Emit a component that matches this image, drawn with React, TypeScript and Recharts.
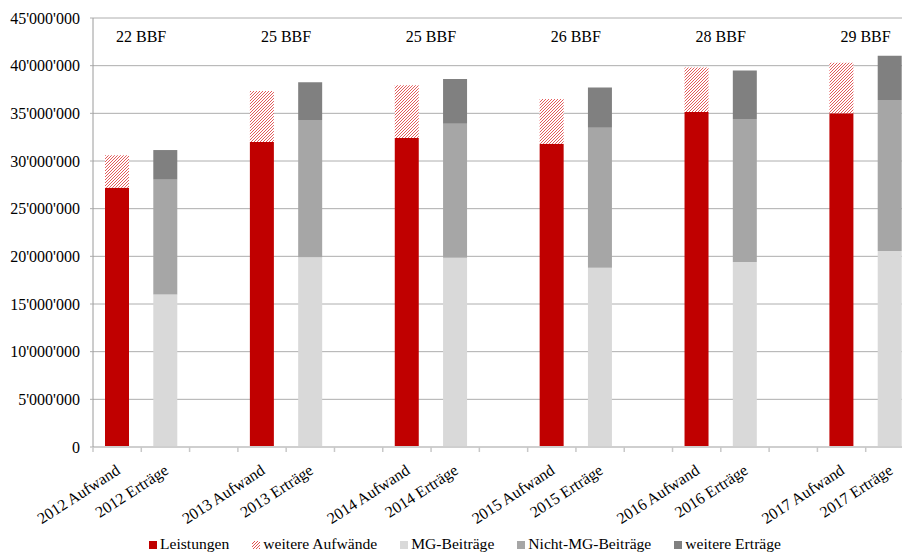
import React from "react";
import { BarChart, Bar, XAxis, YAxis, CartesianGrid, LabelList } from "recharts";

const years = ["2012", "2013", "2014", "2015", "2016", "2017"];
const bbf = [22, 25, 25, 26, 28, 29];
// values in millions CHF
const leistungen = [27.2, 32.0, 32.4, 31.8, 35.15, 35.0];
const weitereAufwaende = [3.4, 5.35, 5.55, 4.7, 4.65, 5.3];
const mgBeitraege = [16.0, 19.9, 19.85, 18.8, 19.4, 20.55];
const nichtMgBeitraege = [12.1, 14.4, 14.05, 14.7, 15.0, 15.85];
const weitereErtraege = [3.05, 3.95, 4.7, 4.2, 5.1, 4.65];
const yTicks = [0, 5, 10, 15, 20, 25, 30, 35, 40, 45].map((v) => v * 1e6);

const FONT = "Liberation Serif, DejaVu Serif, serif";
const CHART_W = 930;
const CHART_H = 552;
const Y_AXIS_W = 93;
const MARGIN = { top: 18, right: 16, left: 0, bottom: 25 };
const X_AXIS_H = 80;

type Row = {
  id: string;
  label: string;
  leistungen: number;
  weitere: number;
  mg: number;
  nmg: number;
  we: number;
  bbf?: string;
};

const rows: Row[] = [];
years.forEach((y, i) => {
  if (i > 0) rows.push({ id: `gap${i}`, label: "", leistungen: 0, weitere: 0, mg: 0, nmg: 0, we: 0 });
  rows.push({
    id: `${y}a`,
    label: `${y} Aufwand`,
    leistungen: leistungen[i] * 1e6,
    weitere: weitereAufwaende[i] * 1e6,
    mg: 0,
    nmg: 0,
    we: 0,
    bbf: `${bbf[i]} BBF`,
  });
  rows.push({
    id: `${y}e`,
    label: `${y} Erträge`,
    leistungen: 0,
    weitere: 0,
    mg: mgBeitraege[i] * 1e6,
    nmg: nichtMgBeitraege[i] * 1e6,
    we: weitereErtraege[i] * 1e6,
  });
});

const BAND = (CHART_W - MARGIN.left - MARGIN.right - Y_AXIS_W) / rows.length;

const fmt = (v: number) =>
  String(Math.round(v)).replace(/\B(?=(\d{3})+(?!\d))/g, "'");

const XTick = (props: any) => {
  const { x, y, index } = props;
  const row = rows[index];
  const ax = x + 4;
  const ay = y + 26;
  return (
    <g>
      <line x1={x - BAND / 2} x2={x - BAND / 2} y1={y} y2={y + 5} stroke="#c8c8c8" strokeWidth={1.5} />
      {row && row.label && (
        <text
          x={ax}
          y={ay}
          textAnchor="end"
          transform={`rotate(-33 ${ax} ${ay})`}
          style={{ fontFamily: FONT, fontSize: 16 }}
          fill="#000"
        >
          {row.label}
        </text>
      )}
    </g>
  );
};

const BbfLabel = (props: any) => {
  const { x, width, value } = props;
  if (!value) return null;
  return (
    <text
      x={Number(x) + Number(width) / 2 + BAND / 2}
      y={42}
      textAnchor="middle"
      style={{ fontFamily: FONT, fontSize: 16 }}
      fill="#000"
    >
      {value}
    </text>
  );
};

const legendItems = [
  { name: "Leistungen", color: "#c00000" },
  { name: "weitere Aufwände", color: "hatch" },
  { name: "MG-Beiträge", color: "#d9d9d9" },
  { name: "Nicht-MG-Beiträge", color: "#a6a6a6" },
  { name: "weitere Erträge", color: "#808080" },
];

export default function App() {
  return (
    <div
      style={{
        position: "absolute",
        left: 0,
        top: 0,
        width: 902,
        height: 552,
        overflow: "hidden",
        background: "#fff",
        fontFamily: FONT,
      }}
    >
      <BarChart
        width={CHART_W}
        height={CHART_H}
        data={rows}
        margin={MARGIN}
        barSize={24}
        style={{ fontFamily: FONT }}
      >
        <defs>
          <pattern id="hatch" patternUnits="userSpaceOnUse" width="3" height="3">
            <rect width="3" height="3" fill="#fff" />
            <path d="M-1,1 l2,-2 M0,3 l3,-3 M2,4 l2,-2" stroke="#e04848" strokeWidth={0.9} />
          </pattern>
        </defs>
        <CartesianGrid vertical={false} stroke="#aeaeae" />
        <XAxis
          dataKey="id"
          height={X_AXIS_H}
          interval={0}
          tick={<XTick />}
          tickLine={false}
          tickSize={0}
          tickMargin={0}
          axisLine={{ stroke: "#cfcfcf", strokeWidth: 2 }}
        />
        <YAxis
          width={Y_AXIS_W}
          domain={[0, 45e6]}
          ticks={yTicks}
          interval={0}
          tickFormatter={fmt}
          tickSize={3}
          tickMargin={10}
          tickLine={{ stroke: "#aeaeae" }}
          axisLine={{ stroke: "#9a9a9a" }}
          tick={{ style: { fontFamily: FONT, fontSize: 16 }, fill: "#000" }}
        />
        <Bar dataKey="leistungen" stackId="a" fill="#c00000" isAnimationActive={false} />
        <Bar dataKey="weitere" stackId="a" fill="url(#hatch)" isAnimationActive={false}>
          <LabelList dataKey="bbf" content={<BbfLabel />} />
        </Bar>
        <Bar dataKey="mg" stackId="a" fill="#d9d9d9" isAnimationActive={false} />
        <Bar dataKey="nmg" stackId="a" fill="#a6a6a6" isAnimationActive={false} />
        <Bar dataKey="we" stackId="a" fill="#808080" isAnimationActive={false} />
      </BarChart>
      <div
        style={{
          position: "absolute",
          left: 149,
          top: 536,
          display: "flex",
          gap: 23,
          fontSize: 15.6,
          lineHeight: "16px",
          whiteSpace: "nowrap",
          color: "#000",
        }}
      >
        {legendItems.map((it) => (
          <span key={it.name}>
            {it.color === "hatch" ? (
              <svg width={8} height={8} style={{ marginRight: 3, verticalAlign: "baseline" }}>
                <defs>
                  <pattern id="hatchIcon" patternUnits="userSpaceOnUse" width="3" height="3">
                    <path d="M-1,1 l2,-2 M0,3 l3,-3 M2,4 l2,-2" stroke="#e04040" strokeWidth={0.9} />
                  </pattern>
                </defs>
                <rect width={8} height={8} fill="url(#hatchIcon)" />
              </svg>
            ) : (
              <span
                style={{
                  display: "inline-block",
                  width: 8,
                  height: 8,
                  background: it.color,
                  marginRight: 3,
                }}
              />
            )}
            {it.name}
          </span>
        ))}
      </div>
    </div>
  );
}
